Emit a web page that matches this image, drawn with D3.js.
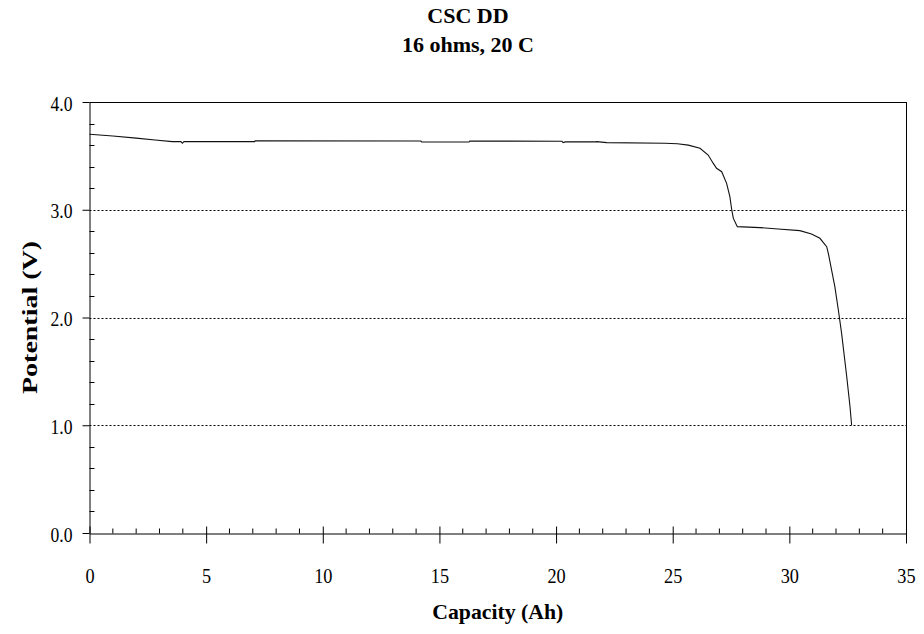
<!DOCTYPE html>
<html>
<head>
<meta charset="utf-8">
<script src="https://cdn.jsdelivr.net/npm/d3@7"></script>
<style>
  html, body { margin: 0; padding: 0; background: #fff; }
  svg { display: block; }
  svg text { font-family: "Liberation Serif", "DejaVu Serif", serif !important; fill: #000; }
</style>
</head>
<body>
<svg id="chart" width="924" height="634"></svg>
<script>
const titleLines = ["CSC DD", "16 ohms, 20 C"];
const xLabel = "Capacity (Ah)";
const yLabel = "Potential (V)";

const capacity = [0, 1.0, 2.0, 2.81, 3.55, 3.92, 3.98, 4.05, 7.08, 7.10, 14.20, 14.24, 16.27, 16.30,
  20.25, 20.30, 20.40, 21.70, 21.74, 22.17, 24.67, 25.20, 25.67, 26.17, 26.52, 26.74, 26.88, 27.10,
  27.31, 27.45, 27.53, 27.60, 27.77, 28.74, 29.52, 30.45, 30.95, 31.31, 31.60, 31.67, 31.95, 32.10,
  32.24, 32.46, 32.60, 32.67];
const potential = [3.70, 3.685, 3.665, 3.647, 3.632, 3.632, 3.617, 3.632, 3.632, 3.641, 3.638, 3.629, 3.629, 3.638,
  3.636, 3.623, 3.630, 3.630, 3.632, 3.623, 3.617, 3.612, 3.60, 3.57, 3.508, 3.43, 3.385, 3.353,
  3.245, 3.121, 3.00, 2.92, 2.843, 2.834, 2.822, 2.806, 2.775, 2.735, 2.657, 2.596, 2.286, 2.07,
  1.853, 1.45, 1.172, 1.0];

const xMajorTicks = [0, 5, 10, 15, 20, 25, 30, 35];
const yMajorTicks = [0, 1, 2, 3, 4];
const yGridValues = [1, 2, 3];

const svg = d3.select("#chart");
const pLeft = 89.5, pRight = 906, pTop = 102, pBottom = 533;

const x = d3.scaleLinear().domain([0, 35]).range([pLeft, pRight]);
const y = d3.scaleLinear().domain([0, 4]).range([pBottom, pTop]);

function narrow(sel, f) {
  sel.each(function () {
    const w = this.getComputedTextLength();
    d3.select(this).attr("textLength", w * f).attr("lengthAdjust", "spacingAndGlyphs");
  });
}

// titles
svg.selectAll("text.title").data(titleLines).enter().append("text")
  .attr("class", "title")
  .attr("x", 468).attr("y", (d, i) => 23 + i * 29)
  .attr("text-anchor", "middle")
  .attr("font-size", 22).attr("font-weight", "bold")
  .text(d => d);

// gridlines
svg.append("g").selectAll("line").data(yGridValues).enter().append("line")
  .attr("x1", pLeft).attr("x2", pRight)
  .attr("y1", d => Math.round(y(d)) + 0.5).attr("y2", d => Math.round(y(d)) + 0.5)
  .attr("stroke", "#000").attr("stroke-width", 1).attr("stroke-dasharray", "2,2");

// frame top and right
svg.append("line").attr("x1", pLeft).attr("x2", pRight + 0.5)
  .attr("y1", pTop + 0.5).attr("y2", pTop + 0.5).attr("stroke", "#000");
svg.append("line").attr("x1", pRight + 0.5).attr("x2", pRight + 0.5)
  .attr("y1", pTop).attr("y2", pBottom).attr("stroke", "#000");

// x axis
const xAxisMajor = d3.axisBottom(x).tickValues(xMajorTicks).tickSize(10).tickSizeOuter(0).tickPadding(14);
const gx = svg.append("g").attr("transform", `translate(0,${pBottom + 0.5})`).call(xAxisMajor);
gx.attr("font-family", null);
gx.select(".domain").attr("stroke", "#000");
gx.selectAll(".tick line").attr("y1", -7).attr("stroke", "#000");
gx.selectAll(".tick text").attr("font-size", 21).attr("y", 49).attr("dy", null);
narrow(gx.selectAll(".tick text"), 0.87);
const xMinor = d3.range(0, 36, 1).filter(v => v % 5 !== 0);
gx.append("g").selectAll("line").data(xMinor).enter().append("line")
  .attr("x1", d => x(d)).attr("x2", d => x(d)).attr("y1", 0).attr("y2", -5)
  .attr("stroke", "#000");

// y axis
const yAxisMajor = d3.axisLeft(y).tickValues(yMajorTicks).tickSize(7).tickSizeOuter(0)
  .tickPadding(10).tickFormat(d3.format(".1f"));
const gy = svg.append("g").attr("transform", `translate(${pLeft},0)`).call(yAxisMajor);
gy.attr("font-family", null);
gy.select(".domain").attr("stroke", "#000");
gy.selectAll(".tick line").attr("stroke", "#000");
gy.selectAll(".tick text").attr("font-size", 20).attr("dy", "0.4em");
narrow(gy.selectAll(".tick text"), 0.88);
const yMinor = d3.range(0, 20).map(i => i * 0.2).filter((v, i) => i % 5 !== 0);
gy.append("g").selectAll("line").data(yMinor).enter().append("line")
  .attr("x1", 0).attr("x2", 5)
  .attr("y1", d => Math.round(y(d)) + 0.5).attr("y2", d => Math.round(y(d)) + 0.5)
  .attr("stroke", "#000");

// axis titles
svg.append("text").attr("x", (pLeft + pRight) / 2).attr("y", 619)
  .attr("text-anchor", "middle").attr("font-size", 22).attr("font-weight", "bold")
  .attr("textLength", 131).attr("lengthAdjust", "spacingAndGlyphs")
  .text(xLabel);
svg.append("text").attr("transform", `translate(37,${(pTop + pBottom) / 2}) rotate(-90)`)
  .attr("text-anchor", "middle").attr("font-size", 21).attr("font-weight", "bold")
  .attr("textLength", 153).attr("lengthAdjust", "spacingAndGlyphs")
  .text(yLabel);

// data line
const pts = capacity.map((c, i) => [c, potential[i]]);
svg.append("path").datum(pts)
  .attr("d", d3.line().x(d => x(d[0])).y(d => y(d[1])))
  .attr("fill", "none").attr("stroke", "#111").attr("stroke-width", 1.1);
</script>
</body>
</html>
